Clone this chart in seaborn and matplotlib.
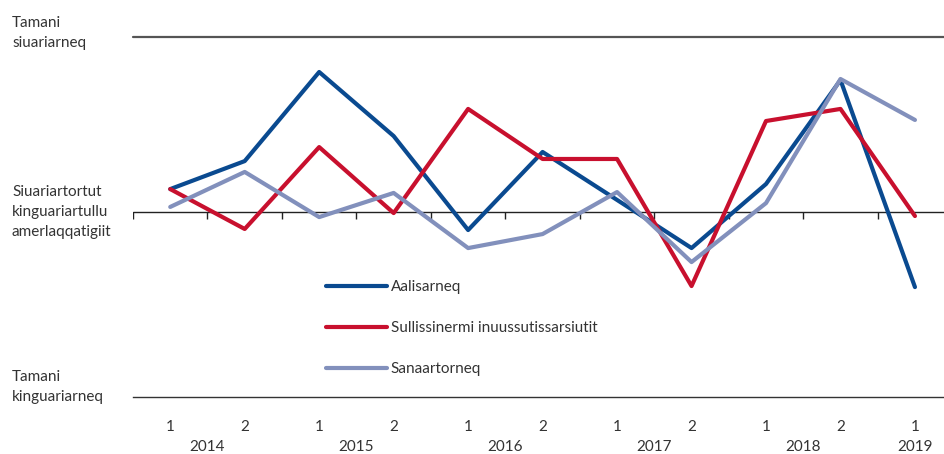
import pandas as pd
import seaborn as sns
import matplotlib.pyplot as plt

# Half-year periods, 2014 H1 to 2019 H1
years = ["2014", "2015", "2016", "2017", "2018", "2019"]
halves = ["1", "2", "1", "2", "1", "2", "1", "2", "1", "2", "1"]

# Values (index, 0 = same level)
aalisarneq = [13.1, 29.1, 80.0, 43.4, -10.3, 34.3, 6.9, -20.6, 16.0, 75.4, -42.9]
sullissinermi = [13.1, -9.7, 37.1, -0.6, 58.9, 30.3, 30.3, -42.3, 52.0, 58.9, -2.3]
sanaartorneq = [2.9, 22.9, -2.9, 10.9, -20.6, -12.6, 11.4, -28.6, 5.1, 76.0, 52.6]

series_names = ["Aalisarneq", "Sullissinermi inuussutissarsiutit", "Sanaartorneq"]
colors = ["#0a4a90", "#c8102e", "#8290bc"]

rows = []
for name, vals in zip(series_names, [aalisarneq, sullissinermi, sanaartorneq]):
    for i, v in enumerate(vals):
        rows.append({"period": i, "value": v, "series": name})
df = pd.DataFrame(rows)

sns.set_style("white")
plt.rcParams["font.family"] = ["Lato", "DejaVu Sans"]
text_color = "#333333"

fig = plt.figure(figsize=(9.44, 4.54), dpi=100)
ax = fig.add_axes([133 / 944, 1 - 397 / 454, 811 / 944, 360 / 454])

sns.lineplot(data=df, x="period", y="value", hue="series", palette=colors,
             hue_order=series_names, linewidth=3, ax=ax, legend=True)

n = len(halves)
ax.set_xlim(-0.5, 10.39)
ax.set_ylim(-105.7, 100)

# top reference line and zero line
ax.axhline(100, color="#555555", lw=1.6, clip_on=False)
ax.axhline(0, color="#222222", lw=1.0, zorder=1)
bounds = [i - 0.5 for i in range(n)]
ax.vlines(bounds, -4.2, 0, color="#222222", lw=1.0, zorder=1)

for s in ["left", "right", "top"]:
    ax.spines[s].set_visible(False)
ax.spines["bottom"].set_color(text_color)
ax.spines["bottom"].set_linewidth(1.0)

year_bounds = [i - 0.5 for i in range(0, n, 2)]
mid_ticks = [i + 0.5 for i in range(0, n - 1, 2)]
ax.set_xticks(year_bounds)
ax.set_xticks(mid_ticks, minor=True)
ax.set_xticklabels([])
ax.set_yticks([])
ax.tick_params(axis="x", which="major", length=39, width=1.0, color=text_color, direction="out")
ax.tick_params(axis="x", which="minor", length=7, width=1.0, color=text_color, direction="out")
ax.set_xlabel("")
ax.set_ylabel("")

tr = ax.get_xaxis_transform()
for i, h in enumerate(halves):
    ax.text(i, -0.083, h, transform=tr, ha="center", va="center",
            fontsize=11, color=text_color)
for j, y in enumerate(years):
    xc = min(2 * j + 0.5, n - 1)
    ax.text(xc, -0.14, y, transform=tr, ha="center", va="center",
            fontsize=11, color=text_color)

leg = ax.legend(loc="upper left", bbox_to_anchor=(0.238, 0.325), frameon=False,
                handlelength=4.0, handletextpad=0.25, labelspacing=1.78,
                borderpad=0, borderaxespad=0, fontsize=11)
for t in leg.get_texts():
    t.set_color(text_color)
for line in leg.get_lines():
    line.set_linewidth(3)
    line.set_solid_capstyle("round")

fig.text(12 / 944, 1 - 33 / 454, "Tamani\nsiuariarneq", ha="left", va="center",
         fontsize=11, color=text_color, linespacing=1.5)
fig.text(12 / 944, 1 - 212 / 454, "Siuariartortut\nkinguariartullu\namerlaqqatigiit",
         ha="left", va="center", fontsize=11, color=text_color, linespacing=1.5)
fig.text(12 / 944, 1 - 387 / 454, "Tamani\nkinguariarneq", ha="left", va="center",
         fontsize=11, color=text_color, linespacing=1.5)

fig.savefig("out.png", dpi=100)
